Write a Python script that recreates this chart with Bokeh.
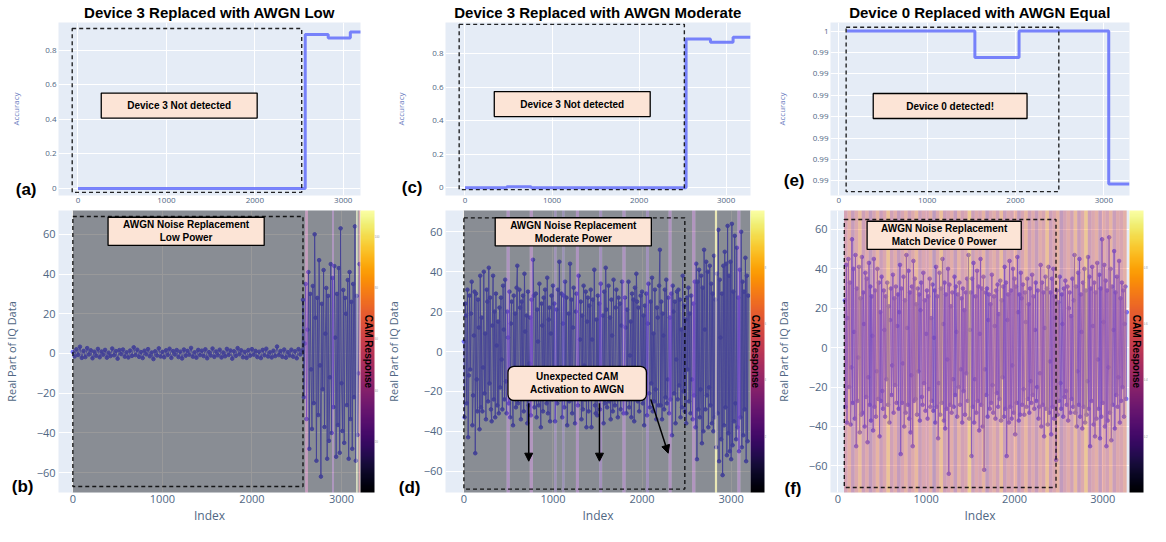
from bokeh.plotting import figure
from bokeh.models import (Label, BoxAnnotation, Arrow, NormalHead, ColorBar, LinearColorMapper,
                          FixedTicker, ColumnDataSource, Range1d, LinearAxis)
from bokeh.palettes import Inferno256
from bokeh.layouts import row, column
from bokeh.embed import file_html
from bokeh.resources import INLINE

# ---------------- data ----------------
titles = ["Device 3 Replaced with AWGN Low", "Device 3 Replaced with AWGN Moderate",
          "Device 0 Replaced with AWGN Equal"]
letters = ["(a)", "(b)", "(c)", "(d)", "(e)", "(f)"]

# accuracy step curves (top row)
acc_a_x = [0, 2570, 2830, 3080, 3200]
acc_a_y = [0.0, 0.89, 0.87, 0.905, 0.905]
acc_c_x = [0, 480, 760, 2540, 2820, 3080, 3280]
acc_c_y = [0.0, 0.005, 0.0, 0.89, 0.87, 0.90, 0.90]
acc_e_x = [90, 1540, 2040, 3055, 3290]
acc_e_y = [1.0, 0.99877, 1.0, 0.99286, 0.99286]

# real part of IQ data (bottom row)
iq_b_lo = [0.8, -1.5, 2.1, -0.7, 3.4, -2.2, 1.3, -1.8, 2.7, -0.5, 1.6, -2.4, 0.9, -1.1, 2.3, -1.9, 1.0, -0.6, 1.8, -2.1,
           0.4, -1.3, 2.5, -0.9, 1.2, -2.6, 1.7, -0.3, 2.0, -1.6, 0.6, -2.0, 1.5, -1.2, 3.1, -0.8, 1.9, -1.7, 0.7, -2.3,
           1.4, -0.4, 2.2, -1.4, 0.5, -2.8, 1.1, -1.0, 2.6, -1.5, 0.8, -1.9, 1.6, -0.7, 2.4, -2.2, 1.2, -0.5, 1.7, -1.8,
           0.9, -2.5, 2.0, -1.1, 1.3, -0.6, 2.8, -1.6, 0.6, -2.1, 1.8, -0.8, 1.4, -1.3, 2.1, -2.4, 0.7, -1.0, 2.5, -1.7,
           1.0, -0.9, 1.9, -2.0, 0.5, -1.4, 2.3, -0.7, 1.5, -2.6, 1.1, -1.2, 2.7, -0.4, 1.6, -1.9, 0.8, -2.2, 1.7, -1.1,
           2.2, -0.6, 1.3, -1.8, 0.9, -2.3, 1.8, -0.9, 2.4, -1.5, 0.6, -2.0, 1.4, -1.3, 3.5, -0.8, 1.2, -1.7, 2.0, -2.1,
           0.7, -1.0, 1.9, -1.6, 1.1, -2.4, 2.2, -0.5, 1.5]
iq_b_hi = [27, -22, 5, 35, -33, 12, 41, -48, 30, -8, -38, 34, -25, 60, 18, -54, 28, -31, 47, -6,
           -62, 25, -18, 42, -37, 10, 33, -53, 29, -44, -12, 45, -40, 38, -27, 44, 8, -52, 30, -36,
           43, -50, 63, -15, -39, 32, -45, 28, 20, -26, 37, -53, 41, -33, 26, -48, 35, -22, 64, -54,
           29, -41, -10, 45]
iq_d = [5, -33, 24, 18, -26, 31, -43, -12, 28, -9, 19, 35, -37, -22, 8, 30, -51, 29, -14, -30, 26, 12, -39, 38, -28,
        17, -30, -8, 40, -21, 9, -34, 31, 25, -25, 42, -16, 27, -29, -35, 13, 38, -24, 20, -33, 29, 3, -27, 15, -31,
        22, -18, 27, -4, -29, 33, 11, -24, 36, -15, -31, 20, 7, -26, 30, -33, 14, 25, -20, -37, 28, -11, 19, -28, 32,
        43, -26, -18, 31, 22, -34, 25, -12, 28, -30, 39, 10, -22, 18, -36, 30, -27, -6, 17, -32, 26, -20, 46, 28, -28,
        -14, 29, -33, 21, 5, -27, 34, -19, -38, 24, 13, -30, 27, -22, 31, -9, -26, 37, -31, 16, 22, -35, 9, 28, -24,
        33, -11, 24, -35, -21, 21, -26, 31, -19, 45, -24, -8, 29, -33, 14, 28, -28, 35, -21, 27, -37, -15, 19, -25, 44,
        -17, 26, -31, 12, 32, -23, -36, 20, 29, -13, -27, 38, -20, 6, 25, -34, 18, -29, 33, -7, -24, 30, -38, 15, 27,
        -30, 23, -15, 31, -38, 6, 26, -22, 41, -27, -31, 16, -32, 28, -20, 24, -29, 34, -23, -10, 18, -36, 30, -26, 42,
        21, -28, -12, 33, -25, 17, -34, 26, 8, -30, 36, -19, -27, 22, 31, -16, -33, 27, -8, 24, -29, 13, 35, -22, -31,
        -19, 27, 12, -31, 21, -24, 35, -28, -2, 15, -33, 29, -22, 26, -35, 32, -17, 39, 25, -25, 22, -30, -12, 28, -20,
        30, -26, 18, -37, 23, -11, 29, -32, 14, 34, -21, -28, 25, -16, 37, -30, 9, -25, 31, -19, -34, 22, 17, -27, 33,
        51, -27, 25, -34, 19, 8, -29, 31, -23, 36, -26, -14, 27, -31, 17, -24, 29, -42, 33, 20, -21, 25, -36, -4, 30,
        -24, 31, -17, 26, -33, 11, -28, 38, -20, 23, -30, 16, -36, 27, -9, 32, -25, 19, -31, 28, -14, -34, 24, -22, 35,
        -38, 44, -54, 35, -29, 41, -33, -19, 38, -46, 32, -40, 51, 11, -29, 45, -22, 40, -38, -18, 43, -27, 34, -36, 29,
        -40, 48, -33, 26, -48, 39, -31, 61, -55, 36, 7, -44, 29, -62, 43, -37, 50, -28, 44, -52, 63, -41, 38, -50, 45,
        -54, 64, -47, 30, -35, 58, -26, -44, 52, -38, 27, -50, 41, -33, 60, -48, 35, -42, 30, -29, 47, -55, 38, -45, 28]
iq_f = [24, -30, 42, -38, 15, 45, -20, 33, -39, -10, 55, -28, 40, 8, -36, 47, -50, 30, -27, -5, 41, -43, 25, -34, 46,
        -33, 28, 12, -40, 38, -25, 35, -48, -15, 43, -29, 31, -37, 26, 6, -42, 45, -30, 29, -35, -12, 40, -26, 33, -45,
        18, -27, 36, -22, -31, 29, 9, -35, 26, -16, 33, -29, 21, -38, 14, 30, -24, -9, 37, -33, 25, -19, 31, -28, 11,
        27, -31, 18, 42, -54, 30, -28, -8, 36, -40, 24, -33, 47, 10, -29, 39, -36, 28, -43, -14, 31, -50, 44, -27, 35,
        -26, 22, -34, 30, -12, 27, -37, 19, 33, -25, -29, 38, -18, 24, -32, 7, 29, -36, 26, -21, 35, -30, 15, -27, 32,
        -32, 5, 29, -38, 41, -30, 26, -46, -18, 38, -34, 30, -28, 45, 12, -37, 33, -41, 27, -31, -6, 40, -64, 32, -29,
        21, -33, 28, -16, -30, 36, -24, 31, 8, -35, 27, -20, 33, -29, -11, 25, -38, 30, -22, 19, -34, 28, -13, 35, -27,
        47, -36, 9, 28, -55, 35, -30, 43, -38, -16, 26, -33, 39, -27, 31, -42, 7, 45, -29, 30, -40, 36, -62, -11, 28,
        -24, 30, -35, 14, 27, -31, 22, -28, 37, -19, -33, 26, 11, -36, 29, -23, 32, -30, 17, -26, 34, -37, 24, -15, 31,
        -35, 41, -31, 33, -55, 14, 27, -38, 44, -30, 29, -36, -9, 40, -33, 35, -44, 31, -28, 46, 18, -37, 27, -34, 38,
        25, -29, 32, -21, -34, 28, 13, -30, 35, -26, 22, -33, 30, -17, -28, 37, -24, 26, -31, 9, 33, -27, -20, 29, -36,
        -30, -13, 42, -40, 33, -29, 28, -45, 10, 36, -31, 30, -39, 41, -33, -7, 28, -44, 35, -30, 40, -36, 26, 15, -57,
        29, -34, 23, -27, 36, -18, -31, 27, 12, -35, 30, -25, 34, -22, -29, 31, -37, 20, 28, -33, 16, -26, 35, -30, 24,
        47, -33, 31, -40, -12, 38, -29, 45, -35, 27, 8, -41, 33, -30, 40, -38, 29, -34, -17, 46, -31, 36, -50, 30, -27,
        41, 11, -39, 33, -45, 28, -36, 43, -6, -31, 37, -46, 30, -35, 55, -28, 13, 42, -40, 34, -50, 29, -37, -10, 56,
        -33, 40, -47, 31, -29, 9, 49, -41, 28, -24, 36, -30, -15, 44, -38, 25, -27, 33, -20, 29, -35, 12, 31, -26, 18]
idx_b = [20 * i for i in range(len(iq_b_lo))] + [2570 + 10 * i for i in range(len(iq_b_hi))]
iq_b = iq_b_lo + iq_b_hi
idx_d = [8 * i for i in range(len(iq_d))]
idx_f = [80 + 8 * i for i in range(len(iq_f))]

# CAM response segments (heatmap stripes)
cam_b_left = [0, 2595, 2625, 2895, 2915, 3165, 3180, 3192, 3215]
cam_b_right = [2595, 2625, 2895, 2915, 3165, 3180, 3192, 3215, 3225]
cam_b_val = [0, 45, 0, 30, 0, 105, 0, 62, 0]

cam_d_left = [0, 480, 515, 740, 775, 1015, 1040, 1105, 1130, 1258, 1292, 1520, 1552, 1780, 1815,
              2045, 2078, 2298, 2332, 2562, 2598, 2818, 2842, 3070, 3104]
cam_d_right = cam_d_left[1:] + [3240]
cam_d_val = [0, 2.6, 0, 3.0, 0, 1.8, 0, 1.6, 0, 2.6, 0, 2.0, 0, 2.6, 0,
             1.8, 0, 2.7, 0, 2.9, 0, 9.2, 0, 2.7, 0]

cam_f_val = [0.5, 0.62, 0.42, 0.56, 0.7, 0.46, 0.58, 0.38, 0.52, 0.66,
             0.44, 0.55, 0.74, 0.48, 0.6, 0.4, 0.52, 0.64, 0.46, 0.57,
             0.68, 0.43, 0.55, 0.5, 0.62, 0.36, 0.56, 0.72, 0.46, 0.53,
             0.6, 0.41, 0.64, 0.49, 0.55, 0.78, 0.45, 0.57, 0.51, 0.65,
             0.39, 0.54, 0.61, 0.48, 0.7, 0.44, 0.56, 0.5, 0.63, 0.4,
             0.53, 0.67, 0.46, 0.58, 0.42, 0.6, 0.52, 0.73, 0.45, 0.55,
             0.64, 0.38, 0.51, 0.59, 0.48, 0.69, 0.43, 0.56, 0.76, 0.46,
             0.55, 0.62, 0.41, 0.58, 0.5, 0.66, 0.44, 0.57, 0.53, 0.62]
cam_f_left = [70 + 40 * i for i in range(len(cam_f_val))]
cam_f_right = [v + 40 for v in cam_f_left]

# ---------------- style ----------------
BG = "#e5ecf6"
AX = "#506784"
FONT = "Open Sans"
BOLD = "Liberation Sans"
LINE = "#636efa"
SIG = "#6e6af8"
NOTE_BG = "#fce4d6"


def make_fig(w, h, l, r, t, b, xr, yr):
    p = figure(width=w, height=h, x_range=Range1d(*xr), y_range=Range1d(*yr),
               output_backend="svg", toolbar_location=None,
               min_border_left=l, min_border_right=r, min_border_top=t, min_border_bottom=b)
    p.background_fill_color = BG
    p.border_fill_color = "white"
    p.outline_line_color = None
    p.grid.grid_line_color = "white"
    p.grid.grid_line_width = 1
    p.axis.axis_line_color = None
    p.axis.major_tick_line_color = None
    p.axis.minor_tick_line_color = None
    p.axis.major_tick_out = 0
    p.axis.major_tick_in = 0
    p.axis.major_label_text_font = FONT
    p.axis.major_label_text_color = AX
    p.axis.axis_label_text_font = FONT
    p.axis.axis_label_text_font_style = "normal"
    p.axis.axis_label_text_color = AX
    p.xaxis.ticker = FixedTicker(ticks=[0, 1000, 2000, 3000])
    return p


def letter_axis(p, y, letter, standoff, label, label_size, label_color, label_standoff):
    ax = LinearAxis(ticker=FixedTicker(ticks=[y]), major_label_overrides={y: letter},
                    axis_line_color=None, major_tick_line_color=None, minor_tick_line_color=None,
                    major_tick_out=0, major_tick_in=0, major_label_standoff=standoff,
                    major_label_text_font=BOLD, major_label_text_font_style="bold",
                    major_label_text_font_size="17px", major_label_text_color="black",
                    axis_label=label, axis_label_text_font=FONT, axis_label_text_font_style="normal",
                    axis_label_text_font_size=label_size, axis_label_text_color=label_color,
                    axis_label_standoff=label_standoff)
    p.add_layout(ax, "left")


def note(p, x, y, text, pad, radius=0):
    p.add_layout(Label(x=x, y=y, text=text, text_font=BOLD, text_font_size="10px",
                       text_font_style="bold", text_color="black",
                       text_align="center", text_baseline="middle",
                       background_fill_color=NOTE_BG, background_fill_alpha=1.0,
                       border_line_color="black", border_line_width=1.3,
                       padding=pad, border_radius=radius))


def dashed(p, l, r, b, t):
    p.add_layout(BoxAnnotation(left=l, right=r, bottom=b, top=t, fill_alpha=0,
                               line_color="black", line_dash="4 3", line_width=1.4,
                               line_alpha=0.85))


TOP_H, BOT_H = 208, 318


def top_panel(w, l, r, xr, yr, sx, sy, box, nxy, ntext, npad, title,
              letter, ly, lstand, ystand, yticks, yover):
    p = make_fig(w, TOP_H, l, r, 17, 13, xr, yr)
    p.title.text = title
    p.title.align = "center"
    p.title.text_font = BOLD
    p.title.text_font_size = "15px"
    p.title.text_font_style = "bold"
    p.title.text_color = "black"
    p.title.standoff = 3
    p.step(sx, sy, mode="after", line_color=LINE, line_width=3, line_alpha=0.85)
    p.yaxis.ticker = FixedTicker(ticks=yticks)
    p.yaxis.major_label_overrides = yover
    p.axis.major_label_text_font_size = "8px"
    p.axis.major_label_standoff = 2
    letter_axis(p, ly, letter, lstand, "Accuracy", "8px", "#6a7bc0", ystand)
    dashed(p, *box)
    note(p, nxy[0], nxy[1], ntext, npad)
    return p


def bottom_panel(w, l, r, xr, yr, idx, iq, cl, cr, cv, chigh, cticks, box, nxy, ntext, npad,
                 letter, ly, lstand, ystand):
    p = make_fig(w, BOT_H, l, r, 2, 26, xr, yr)
    mapper = LinearColorMapper(palette=Inferno256, low=0, high=chigh)
    p.line(idx, iq, line_color=SIG, line_width=1.0, line_alpha=0.85)
    p.scatter(idx, iq, size=3.6, fill_color=SIG, line_color=SIG, alpha=0.9)
    src = ColumnDataSource(dict(left=cl, right=cr, val=cv))
    p.quad(left="left", right="right", bottom=yr[0] - 5, top=yr[1] + 5, source=src,
           fill_color={"field": "val", "transform": mapper}, fill_alpha=0.4, line_color=None)
    ticks = [-60, -40, -20, 0, 20, 40, 60]
    p.yaxis.ticker = FixedTicker(ticks=ticks)
    p.yaxis.major_label_overrides = {t: ("\u2212" + str(-t) if t < 0 else str(t)) for t in ticks}
    p.axis.major_label_text_font_size = "11px"
    p.axis.major_label_standoff = 3
    p.xaxis.major_label_standoff = 2
    p.xaxis.axis_label = "Index"
    p.xaxis.axis_label_text_font_size = "12px"
    p.xaxis.axis_label_standoff = 1
    letter_axis(p, ly, letter, lstand, "Real Part of IQ Data", "11px", AX, ystand)
    cb = ColorBar(color_mapper=mapper, width=14, padding=0, margin=2,
                  ticker=FixedTicker(ticks=cticks), major_label_text_font_size="3px",
                  major_label_text_color="#999999", major_tick_line_color=None,
                  bar_line_color=None, label_standoff=0)
    p.add_layout(cb, "right")
    cam_ax = LinearAxis(ticker=FixedTicker(ticks=[]), axis_line_color=None,
                        major_tick_line_color=None, minor_tick_line_color=None,
                        major_tick_out=0, major_tick_in=0, major_label_text_font_size="0px",
                        axis_label="CAM Response", axis_label_text_font=BOLD,
                        axis_label_text_font_style="bold", axis_label_text_font_size="10px",
                        axis_label_text_color="black", axis_label_standoff=-20, level="overlay")
    p.add_layout(cam_ax, "right")
    dashed(p, *box)
    note(p, nxy[0], nxy[1], ntext, npad)
    return p


acc_ticks = [0, 0.2, 0.4, 0.6, 0.8]
acc_over = {0: "0"}
e_ticks = [0.993, 0.994, 0.995, 0.996, 0.997, 0.998, 0.999, 1.0]
e_over = {t: "0.99" for t in e_ticks[:-1]}
e_over[1.0] = "1"

pa = top_panel(382, 47, 22, (-220, 3195), (-0.04, 0.96), acc_a_x, acc_a_y,
               (-65, 2530, -0.022, 0.925), (1145, 0.48), "Device 3 Not detected", (26, 7),
               titles[0], letters[0], -0.005, 6, -8, acc_ticks, acc_over)
pc = top_panel(390, 55, 22, (-224, 3280), (-0.047, 0.988), acc_c_x, acc_c_y,
               (-67, 2520, -0.012, 0.977), (1232, 0.50), "Device 3 Not detected", (26, 7),
               titles[1], letters[2], 0.0, 7, -7, acc_ticks, acc_over)
pe = top_panel(378, 50, 5, (-94, 3290), (0.99232, 1.0004), acc_e_x, acc_e_y,
               (83, 2490, 0.9925, 1.00018), (1260, 0.9965), "Device 0 detected!", (33, 7),
               titles[2], letters[4], 0.993, 5, -6, e_ticks, e_over)

pb = bottom_panel(382, 47, 22, (-160, 3212), (-70, 72), idx_b, iq_b,
                  cam_b_left, cam_b_right, cam_b_val, 110, [20, 40, 60, 80, 100],
                  (0, 2570, -67, 69), (1265, 61.5), "AWGN Noise Replacement\nLow Power", (15, 2),
                  letters[1], -67, 0, -10)
pd_ = bottom_panel(390, 53, 22, (-206, 3217), (-70.7, 70.7), idx_d, iq_d,
                   cam_d_left, cam_d_right, cam_d_val, 10, [2, 4, 6, 8],
                   (0, 2480, -69, 67), (1228, 60), "AWGN Noise Replacement\nModerate Power", (15, 2),
                   letters[3], -68, 0, -5)
note(pd_, 1272, -16, "Unexpected CAM\nActivation to AWGN", (22, 5), radius=6)
for xs, ys, xe, ye in [(728, -26, 728, -55), (1522, -26, 1522, -55), (2098, -24, 2293, -51)]:
    pd_.add_layout(Arrow(end=NormalHead(size=8, fill_color="black", line_color="black"),
                         x_start=xs, y_start=ys, x_end=xe, y_end=ye,
                         line_color="black", line_width=1.5))
pf = bottom_panel(378, 51, 18, (-83, 3302), (-73.5, 69.6), idx_f, iq_f,
                  cam_f_left, cam_f_right, cam_f_val, 1.0, [0.2, 0.4, 0.6, 0.8],
                  (73, 2470, -71, 65), (1204, 57), "AWGN Noise Replacement\nMatch Device 0 Power", (14, 2),
                  letters[5], -71.5, 4, -9)

layout = row(column(pa, pb), column(pc, pd_), column(pe, pf))
open("out.html", "w").write(file_html(layout, INLINE))
